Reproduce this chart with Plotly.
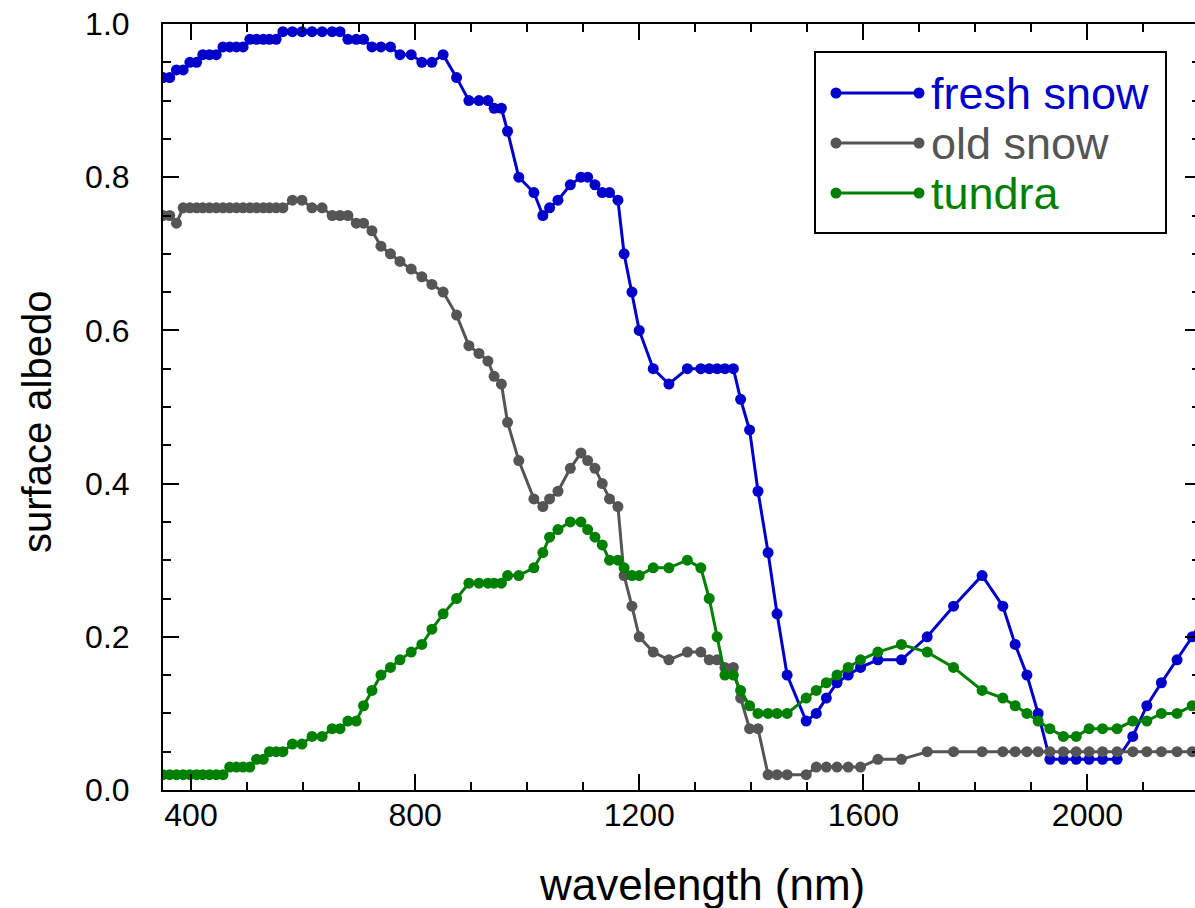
import plotly.graph_objects as go

# Wavelength grid (nm), shared by the three spectra
wavelength = [350, 362, 374, 386, 398, 410, 421, 433, 445, 457,
              469, 481, 493, 505, 517, 529, 540, 552, 564, 581,
              598, 616, 634, 652, 666, 680, 695, 708, 723, 739,
              756, 773, 793, 812, 830, 850, 874, 896, 914, 930,
              941, 954, 965, 985, 1012, 1028, 1040, 1055, 1077, 1096,
              1108, 1121, 1134, 1147, 1162, 1173, 1187, 1200, 1225, 1253,
              1286, 1310, 1325, 1339, 1353, 1368, 1381, 1397, 1412, 1430,
              1446, 1464, 1498, 1516, 1534, 1553, 1573, 1595, 1626, 1668,
              1714, 1761, 1812, 1849, 1871, 1892, 1912, 1933, 1957, 1980,
              2003, 2027, 2053, 2081, 2106, 2132, 2160, 2187, 2212]

fresh_snow = [0.93, 0.93, 0.94, 0.94, 0.95, 0.95, 0.96, 0.96, 0.96, 0.97,
              0.97, 0.97, 0.97, 0.98, 0.98, 0.98, 0.98, 0.98, 0.99, 0.99,
              0.99, 0.99, 0.99, 0.99, 0.99, 0.98, 0.98, 0.98, 0.97, 0.97,
              0.97, 0.96, 0.96, 0.95, 0.95, 0.96, 0.93, 0.90, 0.90, 0.90,
              0.89, 0.89, 0.86, 0.80, 0.78, 0.75, 0.76, 0.77, 0.79, 0.80,
              0.80, 0.79, 0.78, 0.78, 0.77, 0.70, 0.65, 0.60, 0.55, 0.53,
              0.55, 0.55, 0.55, 0.55, 0.55, 0.55, 0.51, 0.47, 0.39, 0.31,
              0.23, 0.15, 0.09, 0.10, 0.12, 0.14, 0.15, 0.16, 0.17, 0.17,
              0.20, 0.24, 0.28, 0.24, 0.19, 0.15, 0.10, 0.04, 0.04, 0.04,
              0.04, 0.04, 0.04, 0.07, 0.11, 0.14, 0.17, 0.20, 0.23]

old_snow = [0.75, 0.75, 0.74, 0.76, 0.76, 0.76, 0.76, 0.76, 0.76, 0.76,
            0.76, 0.76, 0.76, 0.76, 0.76, 0.76, 0.76, 0.76, 0.76, 0.77,
            0.77, 0.76, 0.76, 0.75, 0.75, 0.75, 0.74, 0.74, 0.73, 0.71,
            0.70, 0.69, 0.68, 0.67, 0.66, 0.65, 0.62, 0.58, 0.57, 0.56,
            0.54, 0.53, 0.48, 0.43, 0.38, 0.37, 0.38, 0.39, 0.42, 0.44,
            0.43, 0.42, 0.40, 0.38, 0.37, 0.28, 0.24, 0.20, 0.18, 0.17,
            0.18, 0.18, 0.17, 0.17, 0.16, 0.16, 0.12, 0.08, 0.08, 0.02,
            0.02, 0.02, 0.02, 0.03, 0.03, 0.03, 0.03, 0.03, 0.04, 0.04,
            0.05, 0.05, 0.05, 0.05, 0.05, 0.05, 0.05, 0.05, 0.05, 0.05,
            0.05, 0.05, 0.05, 0.05, 0.05, 0.05, 0.05, 0.05, 0.05]

tundra = [0.02, 0.02, 0.02, 0.02, 0.02, 0.02, 0.02, 0.02, 0.02, 0.02,
          0.03, 0.03, 0.03, 0.03, 0.04, 0.04, 0.05, 0.05, 0.05, 0.06,
          0.06, 0.07, 0.07, 0.08, 0.08, 0.09, 0.09, 0.11, 0.13, 0.15,
          0.16, 0.17, 0.18, 0.19, 0.21, 0.23, 0.25, 0.27, 0.27, 0.27,
          0.27, 0.27, 0.28, 0.28, 0.29, 0.31, 0.33, 0.34, 0.35, 0.35,
          0.34, 0.33, 0.32, 0.30, 0.30, 0.29, 0.28, 0.28, 0.29, 0.29,
          0.30, 0.29, 0.25, 0.20, 0.15, 0.15, 0.13, 0.11, 0.10, 0.10,
          0.10, 0.10, 0.12, 0.13, 0.14, 0.15, 0.16, 0.17, 0.18, 0.19,
          0.18, 0.16, 0.13, 0.12, 0.11, 0.10, 0.09, 0.08, 0.07, 0.07,
          0.08, 0.08, 0.08, 0.09, 0.09, 0.10, 0.10, 0.11, 0.12]

series_names = ["fresh snow", "old snow", "tundra"]
series_colors = ["#0000CD", "#555555", "#008000"]
series_values = [fresh_snow, old_snow, tundra]

FONT = "Liberation Sans, Arial, Helvetica, sans-serif"

# plot-area geometry in pixels (for placing the legend box)
W, H = 1195, 908
ML, MR, MT, MB = 163, 0, 24, 118
PW, PH = W - ML - MR, H - MT - MB


def px(xp):
    return (xp - ML) / PW


def py(yp):
    return 1 - (yp - MT) / PH


fig = go.Figure()
for name, color, vals in zip(series_names, series_colors, series_values):
    fig.add_trace(go.Scatter(
        x=wavelength, y=vals, mode="lines+markers", name=name,
        line=dict(color=color, width=3),
        marker=dict(color=color, size=11, line=dict(width=0)),
        showlegend=False,
    ))

# invisible helper trace for the right-hand tick axis
fig.add_trace(go.Scatter(x=[], y=[], yaxis="y2", showlegend=False, hoverinfo="skip"))

# legend drawn as a framed box with line samples and coloured labels
shapes = [dict(type="rect", xref="paper", yref="paper",
               x0=px(815), x1=px(1166), y0=py(233), y1=py(52),
               line=dict(color="black", width=2), fillcolor="white", layer="above")]
annotations = []
row_y = [93, 143, 193]
for name, color, ry in zip(series_names, series_colors, row_y):
    shapes.append(dict(type="line", xref="paper", yref="paper",
                       x0=px(836), x1=px(919), y0=py(ry), y1=py(ry),
                       line=dict(color=color, width=3), layer="above"))
    for cx in (836, 919):
        shapes.append(dict(type="circle", xref="paper", yref="paper",
                           xsizemode="pixel", ysizemode="pixel",
                           xanchor=px(cx), yanchor=py(ry),
                           x0=-5.5, x1=5.5, y0=-5.5, y1=5.5,
                           fillcolor=color, line=dict(width=0), layer="above"))
    annotations.append(dict(text=name, xref="paper", yref="paper",
                            x=px(929), y=py(ry), xanchor="left", yanchor="middle",
                            showarrow=False,
                            font=dict(size=45, family=FONT, color=color)))

annotations += [
    dict(text="wavelength (nm)", xref="paper", yref="paper", x=px(702), y=py(885),
         xanchor="center", yanchor="middle", showarrow=False,
         font=dict(size=44, family=FONT, color="black")),
    dict(text="surface albedo", xref="paper", yref="paper", x=px(37), y=py(422),
         xanchor="center", yanchor="middle", showarrow=False, textangle=-90,
         font=dict(size=40, family=FONT, color="black")),
]

fig.update_layout(
    width=W, height=H,
    margin=dict(l=ML, r=MR, t=MT, b=MB),
    plot_bgcolor="white", paper_bgcolor="white",
    font=dict(family=FONT, color="black"),
    showlegend=False,
    xaxis=dict(
        range=[350, 2192], showgrid=False, zeroline=False,
        showline=True, linecolor="black", linewidth=2, mirror="ticks",
        tick0=0, dtick=400, ticks="inside", ticklen=16, tickwidth=2, tickcolor="black",
        minor=dict(dtick=100, ticks="inside", ticklen=8, tickwidth=2, tickcolor="black"),
        tickfont=dict(size=32, family=FONT), ticklabelstandoff=-4,
    ),
    yaxis=dict(
        range=[0, 1], showgrid=False, zeroline=False,
        showline=True, linecolor="black", linewidth=2,
        tick0=0, dtick=0.2, tickformat=".1f",
        ticks="inside", ticklen=16, tickwidth=2, tickcolor="black",
        minor=dict(dtick=0.05, ticks="inside", ticklen=8, tickwidth=2, tickcolor="black"),
        tickfont=dict(size=32, family=FONT), ticklabelstandoff=25,
    ),
    yaxis2=dict(
        overlaying="y", side="right", anchor="x", range=[0, 1],
        showgrid=False, zeroline=False, showline=False, showticklabels=False,
        tick0=0, dtick=0.2, ticks="inside", ticklen=10, tickwidth=2, tickcolor="black",
        minor=dict(dtick=0.05, ticks="inside", ticklen=3, tickwidth=2, tickcolor="black"),
    ),
    shapes=shapes,
    annotations=annotations,
)

fig.write_html("out.html")
